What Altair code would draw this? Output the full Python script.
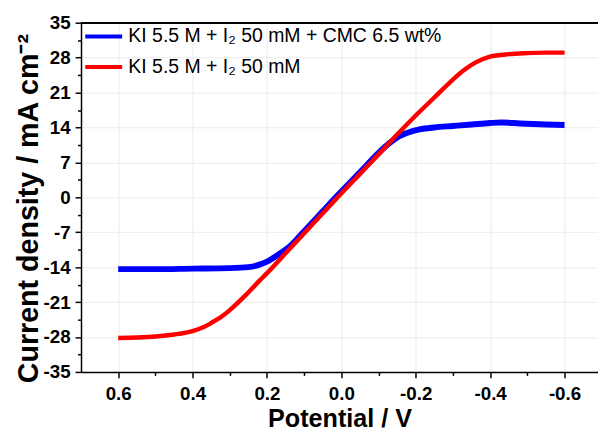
import altair as alt
import pandas as pd

# ---- data ----
red_v = [0.60, 0.55, 0.50, 0.45, 0.40, 0.37, 0.35, 0.32, 0.30, 0.26, 0.22, 0.20,
         0.15, 0.10, 0.05, 0.01, -0.05, -0.10, -0.15, -0.20, -0.25, -0.30, -0.33,
         -0.36, -0.40, -0.45, -0.50, -0.55, -0.60]
red_j = [-28.2, -28.1, -27.9, -27.5, -26.8, -26.0, -25.2, -23.8, -22.6, -19.8, -16.7, -15.2,
         -11.2, -7.2, -3.2, 0.0, 4.7, 8.6, 12.6, 16.4, 20.0, 23.6, 25.5,
         27.0, 28.2, 28.7, 28.9, 29.0, 29.0]

blue_v = [0.60, 0.50, 0.40, 0.30, 0.25, 0.22, 0.20, 0.18, 0.16, 0.14, 0.10, 0.05, 0.01,
          -0.05, -0.10, -0.13, -0.15, -0.18, -0.21, -0.25, -0.30, -0.35, -0.40, -0.43,
          -0.48, -0.55, -0.60]
blue_j = [-14.4, -14.4, -14.3, -14.2, -14.0, -13.5, -12.9, -12.0, -11.0, -9.9, -6.8, -2.8, 0.4,
          5.0, 8.9, 10.9, 12.0, 13.0, 13.6, 14.0, 14.3, 14.6, 14.9, 15.0,
          14.8, 14.6, 14.5]

series_labels = ["KI 5.5 M + I\u2082 50 mM + CMC 6.5 wt%", "KI 5.5 M + I\u2082 50 mM"]
series_colors = ["#0000ff", "#ff0000"]

x_ticks = [0.6, 0.4, 0.2, 0.0, -0.2, -0.4, -0.6]
x_minor = [0.5, 0.3, 0.1, -0.1, -0.3, -0.5]
y_ticks = [-35, -28, -21, -14, -7, 0, 7, 14, 21, 28, 35]
y_minor = [-31.5, -24.5, -17.5, -10.5, -3.5, 3.5, 10.5, 17.5, 24.5, 31.5]
x_frame = [0.7, -0.69]
y_top = 35

blue_df = pd.DataFrame({"V": blue_v, "J": blue_j, "series": series_labels[0]})
red_df = pd.DataFrame({"V": red_v, "J": red_j, "series": series_labels[1]})

FONT = "Liberation Sans"
x_scale = alt.Scale(domain=x_frame, nice=False, zero=False)
y_scale = alt.Scale(domain=[-35, 35], nice=False, zero=False)

legend = alt.Legend(
    title=None, orient="none", legendX=2, legendY=-7, padding=0,
    symbolType="stroke", symbolStrokeWidth=4, symbolSize=1400,
    labelFont=FONT, labelFontSize=19.7, labelColor="black", labelOffset=4,
    labelLimit=600, rowPadding=0,
)
color = alt.Color("series:N", scale=alt.Scale(domain=series_labels, range=series_colors),
                  legend=legend)

major_x = alt.Axis(
    orient="bottom", values=x_ticks,
    labelExpr="replace(format(datum.value, '.1f'), '\u2212', '-')",
    title="Potential / V", grid=True, gridColor="#ebebeb", gridWidth=1,
    tickSize=6, tickWidth=1.5, tickColor="black", domainColor="black", domainWidth=1.5,
    labelFont=FONT, labelFontWeight="bold", labelFontSize=19, labelColor="black", labelPadding=7,
    titleFont=FONT, titleFontWeight="bold", titleFontSize=25.5, titleColor="black", titlePadding=3,
)
major_y = alt.Axis(
    orient="left", values=y_ticks,
    labelExpr="replace(format(datum.value, 'd'), '\u2212', '-')",
    title="Current density / mA cm\u207b\u00b2", grid=True, gridColor="#ebebeb", gridWidth=1,
    tickSize=6, tickWidth=1.5, tickColor="black", domainColor="black", domainWidth=1.5,
    labelFont=FONT, labelFontWeight="bold", labelFontSize=19, labelColor="black", labelPadding=5,
    titleFont=FONT, titleFontWeight="bold", titleFontSize=29, titleColor="black", titlePadding=0,
    titleY=188,
)
minor_x = alt.Axis(values=x_minor, orient="bottom", labels=False, title=None, grid=False,
                   domain=False, tickSize=3.5, tickWidth=1.5, tickColor="black")
minor_y = alt.Axis(values=y_minor, orient="left", labels=False, title=None, grid=False,
                   domain=False, tickSize=3.5, tickWidth=1.5, tickColor="black")

blue = alt.Chart(blue_df).mark_line(strokeWidth=6, interpolate="monotone").encode(
    x=alt.X("V:Q", scale=x_scale, axis=major_x),
    y=alt.Y("J:Q", scale=y_scale, axis=major_y),
    color=color,
)
red = alt.Chart(red_df).mark_line(strokeWidth=4.5, interpolate="monotone").encode(
    x=alt.X("V:Q", scale=x_scale, axis=None),
    y=alt.Y("J:Q", scale=y_scale, axis=None),
    color=color,
)
minor = alt.Chart(blue_df).mark_point(opacity=0).encode(
    x=alt.X("V:Q", scale=x_scale, axis=minor_x),
    y=alt.Y("J:Q", scale=y_scale, axis=minor_y),
)
top = alt.Chart(red_df).mark_rule(color="black", strokeWidth=1.5).encode(
    x=alt.datum(x_frame[0], scale=x_scale, axis=None),
    x2=alt.datum(x_frame[1]),
    y=alt.datum(y_top, scale=y_scale, axis=None),
)

chart = alt.layer(minor, blue, red, top).resolve_axis(
    x="independent", y="independent"
).properties(
    width=524, height=354,
    padding={"left": 74, "top": 12, "right": 0, "bottom": 58},
    autosize=alt.AutoSizeParams(type="none"),
    background="white",
).configure_view(stroke=None)

chart.save("out.html", embed_options={"renderer": "svg", "actions": False})
